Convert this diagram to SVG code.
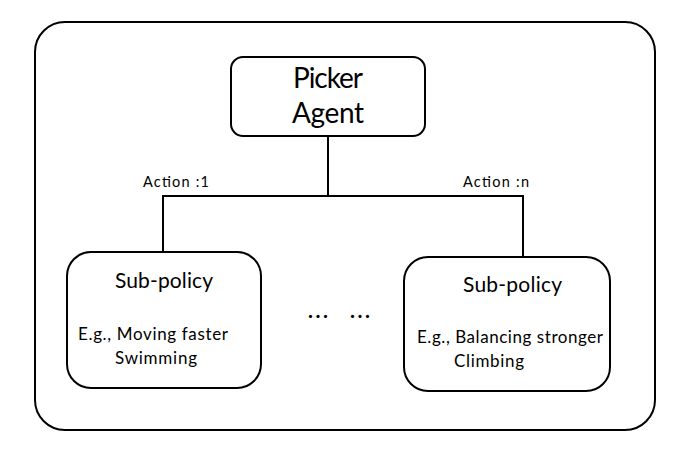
<svg xmlns="http://www.w3.org/2000/svg" width="695" height="454" viewBox="0 0 695 454">
<style>
.box{fill:#fff;stroke:#000;stroke-width:2}
.ln{fill:none;stroke:#000;stroke-width:2}
text{font-family:Lato,"Liberation Sans",sans-serif;fill:#000}
.t1{font-size:28px}
.t2{font-size:21px}
.t3{font-size:17px}
.t4{font-size:14.5px}
.dots{font-size:21px;font-weight:bold}
</style>
<rect width="695" height="454" fill="#fff"/>
<g id="frame"><rect class="box" x="35" y="22" width="620" height="408" rx="30" ry="30"/></g>
<g id="connectors">
<path class="ln" d="M328 136V196M163 252V196H523V257"/>
</g>
<g id="labels">
<text class="t4" x="143" y="187" textLength="66">Action :1</text>
<text class="t4" x="463" y="187" textLength="66">Action :n</text>
<text class="dots" x="308" y="318" textLength="20">...</text>
<text class="dots" x="350" y="318" textLength="20">...</text>
</g>
<g id="picker">
<rect class="box" x="231" y="57" width="194" height="79" rx="12" ry="12"/>
<text class="t1" x="293" y="88" textLength="70">Picker</text>
<text class="t1" x="292" y="123" textLength="72">Agent</text>
</g>
<g id="sub1">
<rect class="box" x="67" y="252" width="194" height="136" rx="24" ry="24"/>
<text class="t2" x="115" y="288" textLength="98">Sub-policy</text>
<text class="t3" x="78" y="340" textLength="150">E.g., Moving faster</text>
<text class="t3" x="115" y="364" textLength="82">Swimming</text>
</g>
<g id="subn">
<rect class="box" x="404" y="257" width="206" height="134" rx="24" ry="24"/>
<text class="t2" x="463" y="292" textLength="99">Sub-policy</text>
<text class="t3" x="417" y="343" textLength="186">E.g., Balancing stronger</text>
<text class="t3" x="454" y="367" textLength="70">Climbing</text>
</g>
</svg>
